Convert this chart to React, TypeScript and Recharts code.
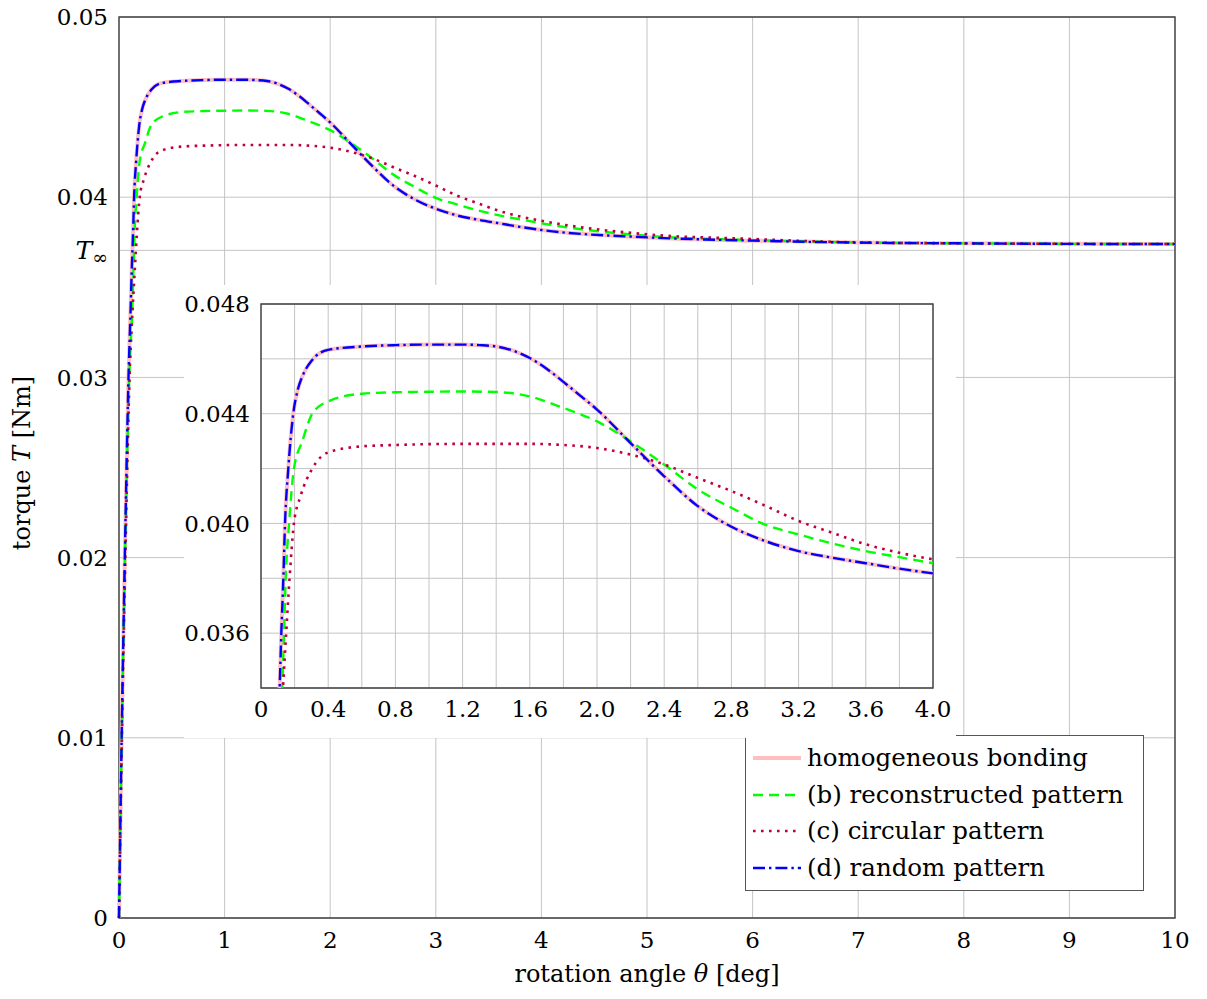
import React from 'react';
import {
  LineChart,
  Line,
  XAxis,
  YAxis,
  CartesianGrid,
  ReferenceArea,
  Legend,
} from 'recharts';

const FONT = "'DejaVu Serif', serif";
const GRID = '#c4c4c4';
const FRAME = '#404040';

// asymptotic torque level
const T_INF = 0.03705;

// (d) random pattern (homogeneous bonding sits on top of it)
const randomX = [0, 0.025, 0.055, 0.09, 0.111, 0.121, 0.133, 0.143, 0.1625, 0.192, 0.22, 0.246, 0.305, 0.4, 0.6, 0.8, 1.0, 1.2, 1.3, 1.4, 1.5, 1.6, 1.7, 1.8, 1.9, 2.0, 2.2, 2.4, 2.6, 2.8, 3.0, 3.2, 3.4, 3.6, 3.8, 4.0, 5, 6, 7, 8, 9, 10];
const randomY = [0, 0.01, 0.02, 0.03, 0.034, 0.036, 0.038, 0.04, 0.042, 0.044, 0.0449, 0.04536, 0.04596, 0.04633, 0.04645, 0.0465, 0.04652, 0.04652, 0.0465, 0.04645, 0.0463, 0.04603, 0.04564, 0.04516, 0.04466, 0.04415, 0.04293, 0.04172, 0.04063, 0.03988, 0.03936, 0.03899, 0.03875, 0.03855, 0.03835, 0.03818, 0.03777, 0.03759, 0.03748, 0.03744, 0.03741, 0.0374];

const homogeneousX = randomX;
const homogeneousY = randomY;

// (b) reconstructed pattern
const reconX = [0, 0.026, 0.057, 0.097, 0.127, 0.137, 0.147, 0.167, 0.196, 0.246, 0.305, 0.4, 0.6, 0.8, 1.0, 1.2, 1.4, 1.6, 1.8, 2.0, 2.2, 2.4, 2.6, 2.8, 3.0, 3.2, 3.4, 3.6, 3.8, 4.0, 5, 6, 7, 8, 9, 10];
const reconY = [0, 0.01, 0.02, 0.03, 0.034, 0.036, 0.038, 0.04, 0.042, 0.043, 0.044, 0.04445, 0.04473, 0.04478, 0.0448, 0.04481, 0.04479, 0.04463, 0.04421, 0.04372, 0.04299, 0.04215, 0.04124, 0.04057, 0.03996, 0.0396, 0.03927, 0.03899, 0.03877, 0.03855, 0.03786, 0.03762, 0.03749, 0.03744, 0.03741, 0.0374];

// (c) circular pattern
const circX = [0, 0.027, 0.06, 0.1, 0.131, 0.15, 0.17, 0.196, 0.236, 0.305, 0.4, 0.6, 0.8, 1.2, 1.6, 1.8, 2.0, 2.2, 2.4, 2.6, 2.8, 3.0, 3.2, 3.4, 3.6, 3.8, 4.0, 5, 6, 7, 8, 9, 10];
const circY = [0, 0.01, 0.02, 0.03, 0.034, 0.036, 0.038, 0.04, 0.041, 0.042, 0.04259, 0.04281, 0.04286, 0.0429, 0.0429, 0.04286, 0.04275, 0.04251, 0.04215, 0.04166, 0.04118, 0.04065, 0.04009, 0.03966, 0.03924, 0.03893, 0.03869, 0.03794, 0.03768, 0.03749, 0.03744, 0.03741, 0.0374];

const mainXTicks = [0, 1, 2, 3, 4, 5, 6, 7, 8, 9, 10];
const mainYTicks = [0, 0.01, 0.02, 0.03, T_INF, 0.04, 0.05];
const insetXTicks = [0, 0.2, 0.4, 0.6, 0.8, 1.0, 1.2, 1.4, 1.6, 1.8, 2.0, 2.2, 2.4, 2.6, 2.8, 3.0, 3.2, 3.4, 3.6, 3.8, 4.0];
const insetYTicks = [0.034, 0.036, 0.038, 0.04, 0.042, 0.044, 0.046, 0.048];

const toPoints = (xs: number[], ys: number[]) => xs.map((x, i) => ({ x, y: ys[i] }));

const SERIES = [
  { name: 'homogeneous bonding', data: toPoints(homogeneousX, homogeneousY), color: '#ffbfbf', width: 4, dash: undefined },
  { name: '(b) reconstructed pattern', data: toPoints(reconX, reconY), color: '#00ff00', width: 2.4, dash: '10 6' },
  { name: '(c) circular pattern', data: toPoints(circX, circY), color: '#bf0040', width: 2.6, dash: '2.6 5.4' },
  { name: '(d) random pattern', data: toPoints(randomX, randomY), color: '#0000ff', width: 2.4, dash: '12 4 2.4 4' },
];

const renderLines = () =>
  SERIES.map((s) => (
    <Line
      key={s.name}
      name={s.name}
      data={s.data}
      dataKey="y"
      type="monotone"
      stroke={s.color}
      strokeWidth={s.width}
      strokeDasharray={s.dash}
      dot={false}
      activeDot={false}
      isAnimationActive={false}
    />
  ));

const textStyle = { fontFamily: FONT, fontSize: 23, fill: '#000' };

function MainYTick({ x, y, payload }: any) {
  if (Math.abs(payload.value - T_INF) < 1e-9) {
    return (
      <text x={x} y={y} dy="0.355em" textAnchor="end" style={{ ...textStyle, fontSize: 25 }}>
        <tspan fontStyle="italic">T</tspan>
        <tspan fontSize={19} dy={5}>∞</tspan>
      </text>
    );
  }
  return (
    <text x={x} y={y} dy="0.355em" textAnchor="end" style={textStyle}>
      {payload.value === 0 ? '0' : payload.value.toFixed(2)}
    </text>
  );
}

function InsetXTick({ x, y, payload }: any) {
  if (Math.round(payload.value * 10) % 4 !== 0) return <g />;
  return (
    <text x={x} y={y} dy="0.71em" textAnchor="middle" style={textStyle}>
      {payload.value === 0 ? '0' : payload.value.toFixed(1)}
    </text>
  );
}

function InsetYTick({ x, y, payload }: any) {
  if (Math.round(payload.value * 1000) % 4 !== 0) return <g />;
  return (
    <text x={x} y={y} dy="0.355em" textAnchor="end" style={textStyle}>
      {payload.value.toFixed(3)}
    </text>
  );
}

const XLabel = () => (
  <text x={647} y={982} textAnchor="middle" style={{ fontFamily: FONT, fontSize: 24, fill: '#000' }}>
    rotation angle <tspan fontStyle="italic">θ</tspan> [deg]
  </text>
);

const YLabel = () => (
  <text
    x={30}
    y={463}
    textAnchor="middle"
    transform="rotate(-90, 30, 463)"
    style={{ fontFamily: FONT, fontSize: 24, fill: '#000' }}
  >
    torque <tspan fontStyle="italic">T</tspan> [Nm]
  </text>
);

// legend keeps the plotting order, not the library's sorted order
function LegendBox() {
  return (
    <div
      style={{
        background: '#fff',
        border: '1px solid #555',
        padding: '4px 20px 4px 7px',
        fontFamily: FONT,
        fontSize: 24.5,
        color: '#000',
        lineHeight: 1,
      }}
    >
      {SERIES.map((s) => (
        <div key={s.name} style={{ display: 'flex', alignItems: 'center', height: 36.5, whiteSpace: 'nowrap' }}>
          <svg width={48} height={10} style={{ marginRight: 6 }}>
            <line x1={0} y1={5} x2={48} y2={5} stroke={s.color} strokeWidth={s.width} strokeDasharray={s.dash} />
          </svg>
          <span>{s.name}</span>
        </div>
      ))}
    </div>
  );
}

export default function App() {
  return (
    <div style={{ position: 'absolute', left: 0, top: 0, width: 1207, height: 999, background: '#fff' }}>
      <LineChart width={1207} height={999} margin={{ top: 17, right: 32, bottom: 0, left: 0 }}>
        <CartesianGrid stroke={GRID} strokeWidth={1} />
        <XAxis
          type="number"
          dataKey="x"
          domain={[0, 10]}
          ticks={mainXTicks}
          interval={0}
          height={81}
          tickLine={false}
          axisLine={false}
          tickMargin={8}
          tick={textStyle}
          label={XLabel}
        />
        <YAxis
          type="number"
          domain={[0, 0.05]}
          ticks={mainYTicks}
          interval={0}
          width={119}
          tickLine={false}
          axisLine={false}
          tickMargin={5}
          tick={MainYTick}
          label={YLabel}
        />
        <ReferenceArea x1={0} x2={10} y1={0} y2={0.05} fill="none" stroke={FRAME} strokeWidth={1.4} />
        {renderLines()}
        <Legend
          layout="horizontal"
          verticalAlign="middle"
          align="center"
          content={LegendBox}
          wrapperStyle={{ left: 745, top: 735, width: 'auto', height: 'auto' }}
        />
      </LineChart>

      <div style={{ position: 'absolute', left: 184, top: 285, width: 772, height: 453, background: '#fff' }}>
        <LineChart width={772} height={453} margin={{ top: 19, right: 23, bottom: 0, left: 0 }}>
          <CartesianGrid stroke={GRID} strokeWidth={1} />
          <XAxis
            type="number"
            dataKey="x"
            domain={[0, 4]}
            ticks={insetXTicks}
            interval={0}
            allowDataOverflow
            height={50}
            tickLine={false}
            axisLine={false}
            tickMargin={7}
            tick={InsetXTick}
          />
          <YAxis
            type="number"
            domain={[0.034, 0.048]}
            ticks={insetYTicks}
            interval={0}
            allowDataOverflow
            width={77}
            tickLine={false}
            axisLine={false}
            tickMargin={5}
            tick={InsetYTick}
          />
          <ReferenceArea x1={0} x2={4} y1={0.034} y2={0.048} fill="none" stroke={FRAME} strokeWidth={1.4} />
          {renderLines()}
        </LineChart>
      </div>
    </div>
  );
}
